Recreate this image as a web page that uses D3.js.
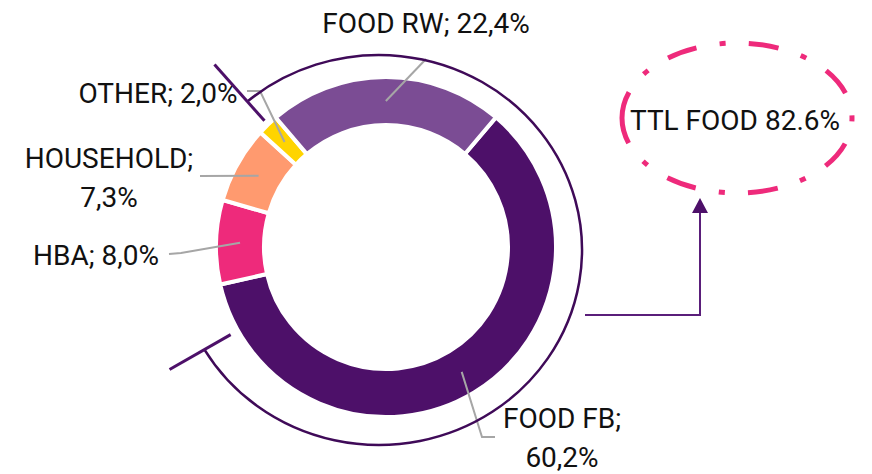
<!DOCTYPE html>
<html>
<head>
<meta charset="utf-8">
<script src="https://cdn.jsdelivr.net/npm/d3@7"></script>
<style>
  body { margin: 0; background: #fff; }
  text { font-family: Roboto, "Liberation Sans", sans-serif; fill: #111; }
</style>
</head>
<body>
<svg id="chart"></svg>
<script>
var categories = ["FOOD FB", "HBA", "HOUSEHOLD", "OTHER", "FOOD RW"];
var shares = [60.2, 8.0, 7.3, 2.0, 22.4];
var labels = [["FOOD FB;", "60,2%"], ["HBA; 8,0%"], ["HOUSEHOLD;", "7,3%"], ["OTHER; 2,0%"], ["FOOD RW; 22,4%"]];
var totalLabel = "TTL FOOD 82.6%";

const width = 872;
const height = 474;
const colors = ["#4d1069", "#ee2a7b", "#ff9a6f", "#ffd400", "#7b4c94"];

// hand placed label spots: text anchor + leader bend points
var labelPos = [
  {x: 562, y: 428, leader: [[482, 437], [495, 437]]},
  {x: 96, y: 265, leader: [[181, 253], [169, 254]]},
  {x: 109, y: 168, leader: [[200, 176]]},
  {x: 158, y: 103, leader: [[260, 91], [247, 91]]},
  {x: 426, y: 33, leader: [[426, 59]]}
];

var cx = 386, cy = 247;
var rad = d => d * Math.PI / 180;

var svg = d3.select('#chart')
  .attr('width', width)
  .attr('height', height);

var data = categories.map((c, i) => ({name: c, value: shares[i]}));

var pie = d3.pie()
  .sort(null)
  .value(d => d.value)
  .startAngle(rad(40.3))
  .endAngle(rad(40.3) + 2 * Math.PI);

var arc = d3.arc()
  .innerRadius(122)
  .outerRadius(170);

var arcs = pie(data);

var g = svg.append('g').attr('transform', `translate(${cx},${cy})`);

g.selectAll('path')
  .data(arcs)
  .enter().append('path')
    .attr('d', arc)
    .attr('fill', (d, i) => colors[i])
    .attr('stroke', '#fff')
    .attr('stroke-width', 4)
    .attr('stroke-linejoin', 'miter');

// leader lines from slice centroids
var line = d3.line();
arcs.forEach((a, i) => {
  var c = arc.centroid(a);
  var pts = [[c[0] + cx, c[1] + cy]].concat(labelPos[i].leader);
  svg.append('path')
    .attr('d', line(pts))
    .attr('fill', 'none')
    .attr('stroke', '#a6a6a6')
    .attr('stroke-width', 2);
});

// slice labels
labels.forEach((lines, i) => {
  var t = svg.append('text')
    .attr('x', labelPos[i].x)
    .attr('y', labelPos[i].y)
    .attr('text-anchor', 'middle')
    .attr('font-size', 28);
  lines.forEach((s, j) => {
    t.append('tspan')
      .attr('x', labelPos[i].x)
      .attr('dy', j == 0 ? 0 : 39)
      .text(s);
  });
});

// bracket arc around the two food slices
var ex = 379, ey = 250, erx = 203, ery = 195;
var foodStart = arcs[4].startAngle;      // start of FOOD RW
var foodEnd = rad(239.3);                // bracket stops short of the FB edge
var ept = (t, k) => [ex + erx * k * Math.sin(t), ey - ery * k * Math.cos(t)];

var p0 = ept(foodStart, 1), p1 = ept(foodEnd, 1);
svg.append('path')
  .attr('d', `M${p0}A${erx},${ery} 0 1 1 ${p1}`)
  .attr('fill', 'none')
  .attr('stroke', '#3f0a58')
  .attr('stroke-width', 2.5);

[[foodStart, 0.87, 1.25], [foodEnd, 0.85, 1.2]].forEach(tk => {
  svg.append('path')
    .attr('d', line([ept(tk[0], tk[1]), ept(tk[0], tk[2])]))
    .attr('stroke', '#4d1069')
    .attr('stroke-width', 3);
});

// callout ellipse
var ox = 737, oy = 118, orx = 115, ory = 75;
var ell = svg.append('path')
  .attr('d', `M${ox - orx},${oy}A${orx},${ory} 0 1 1 ${ox + orx},${oy}A${orx},${ory} 0 1 1 ${ox - orx},${oy}`)
  .attr('fill', 'none')
  .attr('stroke', '#ee2a7b')
  .attr('stroke-width', 5);

var L = ell.node().getTotalLength();
var D = 30, dot = 6, E = 24;
var gap = (L - 7 * (D + dot) - E) / 14;
ell.attr('stroke-dasharray', `${D} ${gap} ${dot} ${gap}`)
  .attr('stroke-dashoffset', D - (D + E) / 2);

svg.append('text')
  .attr('x', 735)
  .attr('y', 130)
  .attr('text-anchor', 'middle')
  .attr('font-size', 28)
  .text(totalLabel);

// elbow arrow from bracket up to the callout
var ax = 700;
svg.append('path')
  .attr('d', line([[585, 315], [ax, 315], [ax, oy + ory + 18]]))
  .attr('fill', 'none')
  .attr('stroke', '#5a1e7a')
  .attr('stroke-width', 2);

svg.append('path')
  .attr('d', line([[ax, oy + ory + 5], [ax + 8, oy + ory + 20], [ax - 8, oy + ory + 20]]) + 'Z')
  .attr('fill', '#4d1069');
</script>
</body>
</html>
